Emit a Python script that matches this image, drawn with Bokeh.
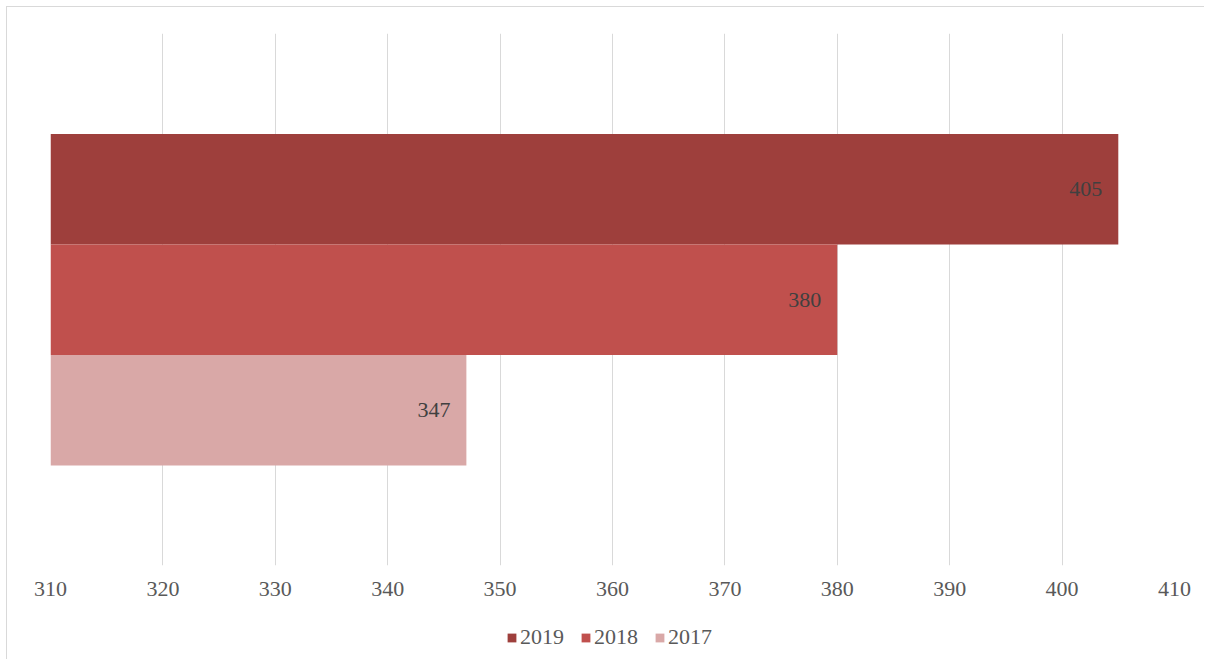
from bokeh.plotting import figure
from bokeh.layouts import column
from bokeh.models import ColumnDataSource, FixedTicker, LabelSet, Legend, LegendItem, Range1d
from bokeh.embed import file_html
from bokeh.resources import INLINE

# ---- data ----
years = ["2019", "2018", "2017"]
values = [405, 380, 347]
x_ticks = [310, 320, 330, 340, 350, 360, 370, 380, 390, 400, 410]

# ---- style ----
colors = ["#9E3F3C", "#C0504D", "#D9A8A7"]
FONT = "Liberation Serif"
FS = "22px"

n = len(years)
positions = [n - 1 - i for i in range(n)]

src = ColumnDataSource(dict(year=years, value=values, pos=positions, color=colors,
                            label=[str(v) for v in values]))

p = figure(width=1197, height=610, output_backend="svg", toolbar_location=None,
           x_range=Range1d(310, 410), y_range=Range1d(-1.405, 3.409),
           min_border_left=43, min_border_right=30, min_border_top=26, min_border_bottom=52,
           y_axis_location=None)
p.outline_line_color = None
p.background_fill_color = "white"
p.border_fill_color = "white"

renderers = []
for i in range(n):
    view_src = ColumnDataSource(dict(value=[values[i]], pos=[positions[i]]))
    p.hbar(y="pos", left=310, right="value", height=1.0, source=view_src,
           fill_color=colors[i], line_color=None)

labels = LabelSet(x="value", y="pos", text="label", source=src, x_offset=-16,
                  text_align="right", text_baseline="middle", text_color="#404040",
                  text_font=FONT, text_font_size=FS)
p.add_layout(labels)

p.xaxis.ticker = FixedTicker(ticks=x_ticks)
p.xaxis.axis_line_color = None
p.xaxis.major_tick_line_color = None
p.xaxis.minor_tick_line_color = None
p.xaxis.major_tick_out = 0
p.xaxis.major_tick_in = 0
p.xaxis.minor_tick_out = 0
p.xaxis.major_label_standoff = 16
p.xaxis.major_label_text_font = FONT
p.xaxis.major_label_text_font_size = FS
p.xaxis.major_label_text_color = "#595959"

p.xgrid.ticker = FixedTicker(ticks=x_ticks)
p.xgrid.grid_line_color = "#d9d9d9"
p.xgrid.grid_line_width = 1
p.ygrid.grid_line_color = None

# ---- legend strip (separate figure; its sample bars are hidden) ----
lf = figure(width=1197, height=42, output_backend="svg", toolbar_location=None,
            x_range=Range1d(310, 410), y_range=Range1d(-1, 3), min_border=0,
            x_axis_location=None, y_axis_location=None)
lf.outline_line_color = None
lf.xgrid.grid_line_color = None
lf.ygrid.grid_line_color = None
lf.background_fill_color = "white"
lf.border_fill_color = "white"
for i in range(n):
    view_src = ColumnDataSource(dict(value=[values[i]], pos=[positions[i]]))
    r = lf.hbar(y="pos", left=310, right="value", height=1.0, source=view_src,
                fill_color=colors[i], line_color=None)
    r.visible = False
    renderers.append(r)

legend = Legend(items=[LegendItem(label=years[i], renderers=[renderers[i]]) for i in range(n)],
                orientation="horizontal", location=(456, 9),
                label_text_font=FONT, label_text_font_size=FS, label_text_color="#595959",
                glyph_width=11, glyph_height=11, label_standoff=3, spacing=16,
                label_height=22, padding=4, margin=0, border_line_color=None,
                background_fill_alpha=0, inactive_fill_alpha=0)
lf.add_layout(legend)

layout = column(p, lf, spacing=0)
layout.styles = {"border-top": "1px solid #d9d9d9", "border-left": "1px solid #d9d9d9",
                 "margin-left": "6px", "margin-top": "6px"}

open("out.html", "w").write(file_html(layout, INLINE))
